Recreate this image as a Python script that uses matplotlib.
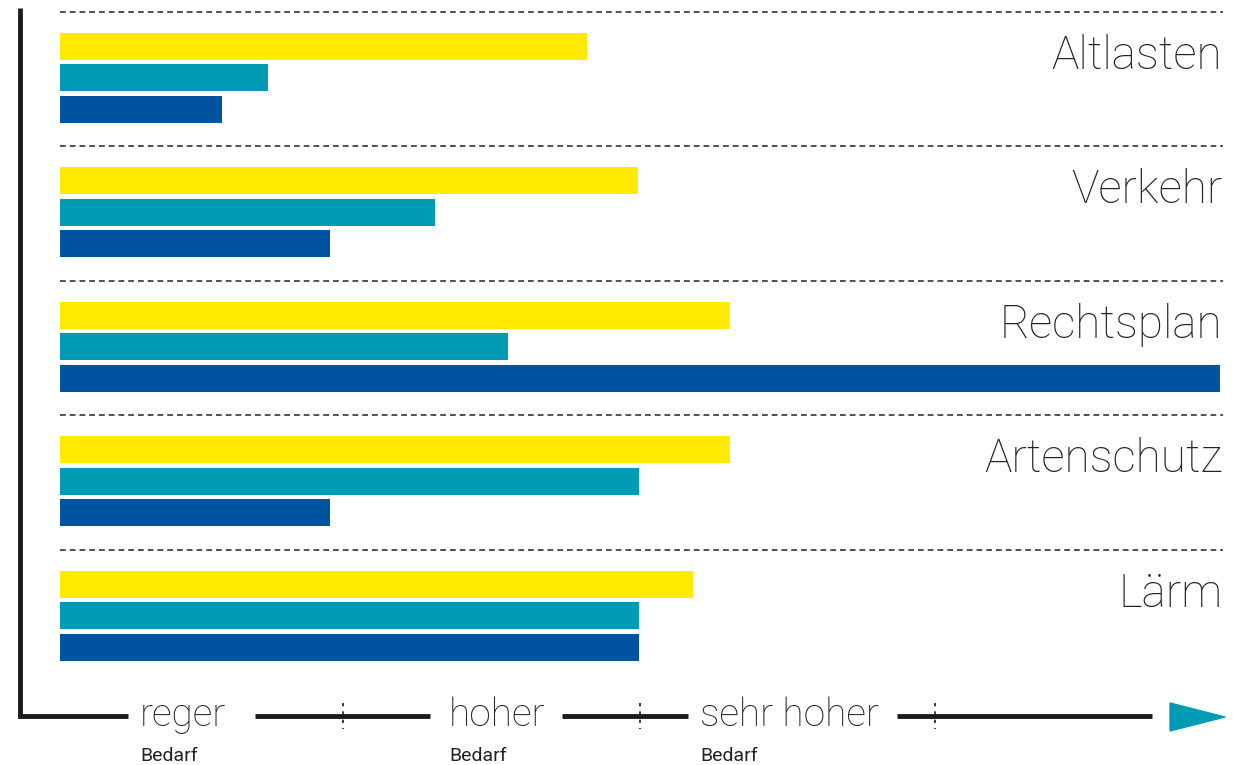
import matplotlib
matplotlib.use("Agg")
import matplotlib.pyplot as plt
from matplotlib.patches import Polygon
from matplotlib.transforms import blended_transform_factory
import numpy as np

# Daten (Skala 0-100, 50 = "hoher Bedarf")
kategorien = ["Altlasten", "Verkehr", "Rechtsplan", "Artenschutz", "Lärm"]
gelb = [45.4, 49.8, 57.8, 57.8, 54.6]
tuerkis = [17.9, 32.3, 38.6, 49.9, 49.9]
blau = [14.0, 23.3, 100.0, 23.3, 49.9]
stufen = ["reger", "hoher", "sehr hoher"]
stufen_x = [140, 449, 700]          # linker Rand der Beschriftung (Pixel)
ticks = [24.4, 50, 75.4]

farben = ["#FFEA00", "#009BB5", "#0053A1"]
achse = "#1c1c1c"
text_farbe = "#232323"

plt.rcParams["font.family"] = ["Roboto", "DejaVu Sans"]

W, H = 1233, 765
fig = plt.figure(figsize=(W / 100, H / 100), dpi=100)

# Overlay in Pixelkoordinaten für Achsenkreuz und Beschriftung
ov = fig.add_axes([0, 0, 1, 1])
ov.set_xlim(0, W)
ov.set_ylim(H, 0)
ov.axis("off")

# Hauptachse: x 0..100 zwischen Pixel 60 und 1220
ax = fig.add_axes([60 / W, 0, 1160 / W, 1])
gap = 134.5
top = 77.5
ax.set_xlim(0, 100)
ax.set_ylim((H - top) / gap, -top / gap)
ax.axis("off")

idx = np.arange(len(kategorien))
h = 27 / gap
off = 31.5 / gap
for werte, f, d in zip([gelb, tuerkis, blau], farben, [-off, 0, off]):
    ax.barh(idx + d, werte, height=h, color=f, zorder=2)

for i, name in enumerate(kategorien):
    ax.plot([0, 100.3], [i - 0.49, i - 0.49], color="#444444", lw=1.3,
            linestyle=(0, (3.2, 2.2)), zorder=1, clip_on=False)
    ax.text(100.2, i - 0.16, name, ha="right", va="center", fontsize=33,
            fontweight="light", color=text_farbe)

# Achsenkreuz
ov.plot([20, 20, 128], [8, 716, 716], color=achse, lw=3.5,
        solid_joinstyle="miter", solid_capstyle="butt")
for a, b in [(255, 430), (562, 688), (897, 1152)]:
    ov.plot([a, b], [716, 716], color=achse, lw=3.5, solid_capstyle="butt")

tr = blended_transform_factory(ax.transData, ov.transData)
for t in ticks:
    ax.plot([t, t], [703, 729], color=achse, lw=1.2, linestyle=(0, (2, 3)),
            transform=tr, clip_on=False)

ov.add_patch(Polygon([[1170, 703], [1170, 731], [1225, 717]],
                     closed=True, color="#009BB5"))

for s, x in zip(stufen, stufen_x):
    ov.text(x, 715, s, ha="left", va="center", fontsize=28,
            fontweight="light", color=text_farbe)
    ov.text(x, 756, "Bedarf", ha="left", va="center", fontsize=14,
            color=text_farbe)

fig.savefig("out.png", dpi=100, facecolor="white")
